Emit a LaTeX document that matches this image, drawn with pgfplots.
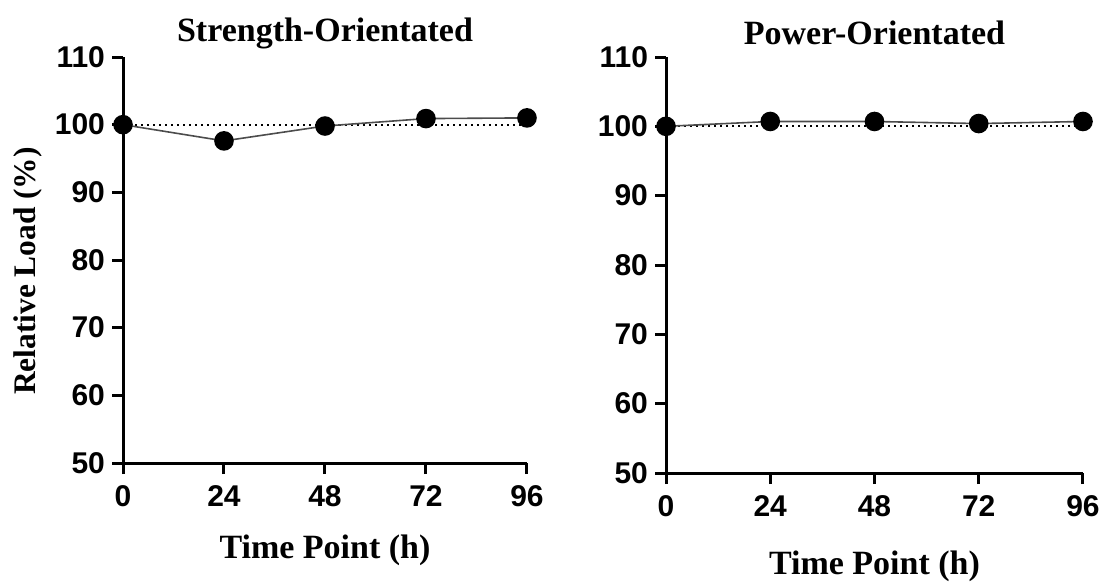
\documentclass[border=0pt]{standalone}
\usepackage{pgfplots}
\pgfplotsset{compat=1.18}
\usepackage{fontspec}
\setmainfont{Liberation Serif}
\newfontfamily\sansf{Liberation Sans}
\begin{document}
\begin{tikzpicture}
\useasboundingbox (0,0) rectangle (555pt,292.5pt);
\pgfplotsset{
  myax/.style={
    scale only axis,
    anchor=south west,
    xmin=0, xmax=96, ymin=50, ymax=110,
    xtick={0,24,48,72,96},
    ytick={50,60,70,80,90,100,110},
    axis x line=bottom, axis y line=left,
    axis line style={-, line width=1.5pt, black},
    tick align=outside,
    major tick length=5.5pt,
    tick style={line width=1.5pt, black},
    /pgf/number format/assume math mode=true,
    ticklabel style={font=\sansf\bfseries\fontsize{15}{16}\selectfont},
    xticklabel style={yshift=-2pt},
    title style={font=\bfseries\fontsize{17}{19}\selectfont, at={(axis description cs:0.5,1)}, anchor=center, yshift=6pt},
    xlabel style={font=\bfseries\fontsize{17}{19}\selectfont, anchor=center},
    ylabel style={font=\bfseries\fontsize{15.7}{19}\selectfont, anchor=center},
    clip=false,
  },
  dataline/.style={color=black!70, line width=0.8pt, mark=*, mark size=4.5pt, mark options={fill=black, draw=black}},
  refline/.style={black, dotted, line width=1pt},
}
\begin{axis}[myax, at={(61.5pt,61pt)}, width=202pt, height=203pt,
  title={Strength-Orientated},
  xlabel={Time Point (h)}, xlabel style={at={(axis description cs:0.5,-0.214)}},
  ylabel={Relative Load (\%)}, ylabel style={at={(axis description cs:-0.235,0.473)}}]
\addplot[refline] coordinates {(0,100) (96,100)};
\addplot[dataline] coordinates {(0,100) (24,97.6) (48,99.8) (72,100.9) (96,101.0)};
\end{axis}
\begin{axis}[myax, at={(333pt,56pt)}, width=208.5pt, height=208pt,
  title={Power-Orientated},
  xlabel={Time Point (h)}, xlabel style={at={(axis description cs:0.5,-0.225)}}]
\addplot[refline] coordinates {(0,100) (96,100)};
\addplot[dataline] coordinates {(0,100) (24,100.7) (48,100.7) (72,100.4) (96,100.7)};
\end{axis}
\end{tikzpicture}
\end{document}
